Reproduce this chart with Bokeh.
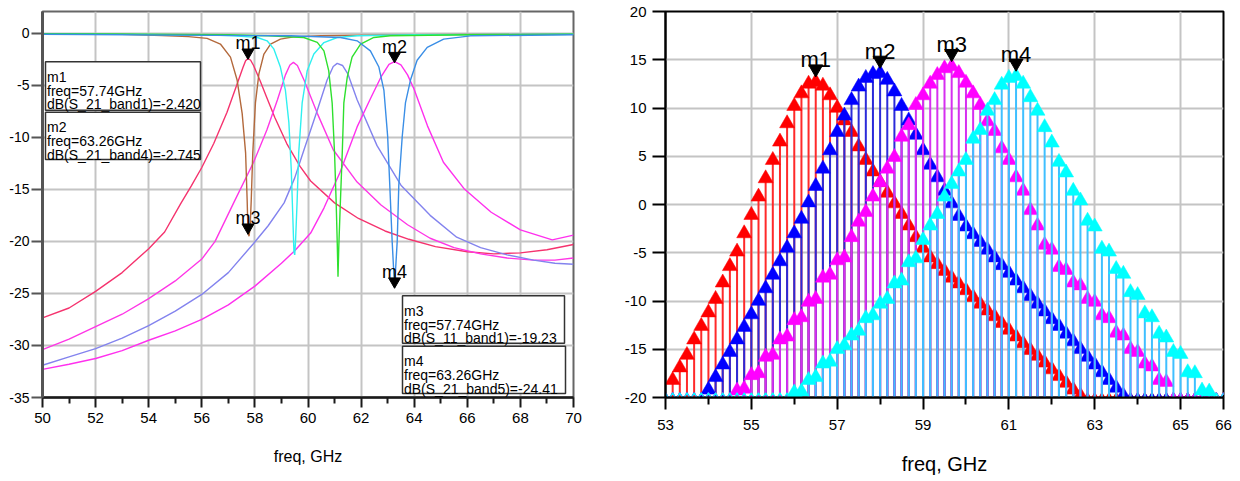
from bokeh.plotting import figure
from bokeh.layouts import row
from bokeh.models import FixedTicker, Range1d, ColumnDataSource, BoxAnnotation, Label
from bokeh.embed import file_html
from bokeh.resources import INLINE
from bokeh.core.properties import value

FONT = "Liberation Sans"

# ======================= LEFT PANEL DATA (dB vs freq GHz) =======================
S21_B1_F = [50.0, 51.0, 52.0, 53.0, 54.0, 54.6, 55.2, 55.6, 56.0, 56.45, 56.95, 57.3, 57.55, 57.65,
            57.74, 57.84, 57.95, 58.2, 58.45, 58.75, 59.2, 59.7, 60.1, 61.0, 61.9, 62.9, 63.8, 64.8,
            66.0, 67.0, 68.0, 69.0, 70.0]
S21_B1_DB = [-27.35, -26.4, -24.8, -23.0, -20.7, -19.1, -16.4, -14.7, -12.9, -10.6, -7.6, -5.1, -3.3, -2.65,
             -2.42, -2.6, -3.1, -4.6, -6.2, -8.1, -10.6, -12.8, -14.2, -16.3, -17.8, -19.0, -19.8, -20.5,
             -21.0, -21.2, -21.1, -20.8, -20.3]

S21_B2_F = [50.0, 51.0, 52.0, 53.0, 54.0, 55.0, 56.0, 56.5, 57.2, 57.95, 58.45, 58.85, 59.15, 59.32,
            59.45, 59.6, 59.85, 60.35, 60.95, 61.85, 62.75, 63.75, 64.6, 65.5, 66.5, 67.5, 68.5, 69.3, 70.0]
S21_B2_DB = [-30.4, -29.4, -28.2, -27.0, -25.5, -23.8, -21.7, -20.0, -16.3, -12.4, -9.3, -6.4, -4.0, -3.05,
             -2.8, -3.1, -4.5, -7.7, -11.2, -14.3, -16.5, -18.4, -19.7, -20.6, -21.2, -21.6, -21.8, -21.8, -21.6]

S21_B3_F = [50.0, 51.0, 52.0, 53.0, 54.0, 55.0, 56.0, 57.0, 57.95, 58.5, 59.1, 59.5, 59.85, 60.35,
            60.72, 60.95, 61.1, 61.3, 61.5, 61.85, 62.6, 63.5, 64.6, 65.6, 66.5, 67.5, 68.5, 69.3, 70.0]
S21_B3_DB = [-31.9, -31.1, -30.3, -29.3, -28.1, -26.7, -25.1, -23.0, -20.2, -18.5, -16.3, -13.9, -11.2, -7.4,
             -4.5, -3.2, -2.9, -3.1, -3.9, -6.4, -10.8, -14.6, -17.5, -19.6, -20.6, -21.3, -21.8, -22.1, -22.2]

S21_B4_F = [50.0, 51.0, 52.0, 53.0, 54.0, 55.0, 56.0, 57.0, 58.0, 59.0, 59.5, 60.1, 60.6, 61.2, 61.85,
            62.35, 62.75, 63.05, 63.26, 63.5, 63.75, 64.0, 64.5, 65.1, 65.9, 66.9, 68.0, 69.2, 70.0]
S21_B4_DB = [-32.3, -31.8, -31.25, -30.5, -29.5, -28.6, -27.5, -26.1, -24.3, -22.1, -20.9, -19.2, -16.8, -13.4,
             -9.0, -6.3, -4.2, -3.0, -2.74, -3.05, -4.0, -5.4, -8.9, -12.4, -15.0, -17.2, -18.9, -19.85, -19.4]

S11_B1_F = [50.0, 53.0, 54.5, 55.5, 56.2, 56.7, 57.08, 57.33, 57.52, 57.65, 57.71, 57.74, 57.78, 57.82,
            57.86, 57.92, 58.02, 58.15, 58.34, 58.59, 58.96, 59.46, 60.5, 62.0, 64.0, 66.0, 70.0]
S11_B1_DB = [-0.05, -0.1, -0.22, -0.33, -0.5, -1.04, -2.3, -4.5, -7.7, -11.5, -16.2, -19.23, -19.5, -18.6,
             -16.2, -11.5, -6.7, -3.9, -2.0, -1.04, -0.57, -0.35, -0.25, -0.2, -0.15, -0.12, -0.1]

S11_B2_F = [50.0, 56.2, 57.2, 58.09, 58.46, 58.71, 58.96, 59.15, 59.28, 59.37, 59.43, 59.47, 59.5, 59.53,
            59.59, 59.65, 59.78, 59.97, 60.22, 60.6, 61.1, 61.85, 64.0, 70.0]
S11_B2_DB = [-0.05, -0.16, -0.25, -0.41, -0.73, -1.5, -3.25, -5.5, -8.6, -13.1, -17.8, -21.0, -21.3, -20.0,
             -16.2, -11.5, -6.7, -3.6, -2.0, -0.9, -0.41, -0.25, -0.15, -0.1]

S11_B3_F = [50.0, 57.0, 58.5, 59.84, 60.35, 60.6, 60.78, 60.91, 61.0, 61.06, 61.1, 61.13, 61.16, 61.22,
            61.29, 61.35, 61.48, 61.66, 61.98, 62.48, 63.1, 66.0, 70.0]
S11_B3_DB = [-0.05, -0.15, -0.25, -0.41, -0.88, -1.7, -3.6, -6.7, -11.5, -16.2, -20.0, -23.4, -20.5, -16.2,
             -11.5, -6.7, -4.2, -2.3, -1.04, -0.41, -0.25, -0.15, -0.1]

S11_B5_F = [50.0, 59.34, 61.22, 61.85, 62.35, 62.67, 62.86, 63.0, 63.08, 63.17, 63.26, 63.36, 63.42, 63.55,
            63.67, 63.86, 64.11, 64.49, 65.11, 66.12, 70.0]
S11_B5_DB = [-0.1, -0.25, -0.41, -0.73, -1.7, -3.25, -5.5, -9.9, -14.6, -20.0, -24.41, -20.0, -14.6, -9.9,
             -6.7, -4.5, -2.6, -1.36, -0.57, -0.25, -0.15]

LEFT_CURVES = [
    (S21_B1_F, S21_B1_DB, "#f5336e"),
    (S21_B2_F, S21_B2_DB, "#ff36e6"),
    (S21_B3_F, S21_B3_DB, "#8383ee"),
    (S21_B4_F, S21_B4_DB, "#ff30ee"),
    (S11_B1_F, S11_B1_DB, "#b3693c"),
    (S11_B2_F, S11_B2_DB, "#2ff0f0"),
    (S11_B3_F, S11_B3_DB, "#2ee02e"),
    (S11_B5_F, S11_B5_DB, "#3a8ee6"),
]

LEFT_MARKERS = [("m1", 57.74, -2.42), ("m2", 63.26, -2.745), ("m3", 57.74, -19.23), ("m4", 63.26, -24.41)]
READOUT_TEXT = [
    ["m1", "freq=57.74GHz", "dB(S_21_band1)=-2.420"],
    ["m2", "freq=63.26GHz", "dB(S_21_band4)=-2.745"],
    ["m3", "freq=57.74GHz", "dB(S_11_band1)=-19.23"],
    ["m4", "freq=63.26GHz", "dB(S_21_band5)=-24.41"],
]

LEFT_X_TICKS = [50, 52, 54, 56, 58, 60, 62, 64, 66, 68, 70]
LEFT_X_MINOR = [51, 53, 55, 57, 59, 61, 63, 65, 67, 69]
LEFT_Y_TICKS = [-35, -30, -25, -20, -15, -10, -5, 0]

# ======================= RIGHT PANEL DATA =======================
FREQ_R = [53.0, 53.167, 53.333, 53.5, 53.667, 53.833,
          54.0, 54.167, 54.333, 54.5, 54.667, 54.833,
          55.0, 55.167, 55.333, 55.5, 55.667, 55.833,
          56.0, 56.167, 56.333, 56.5, 56.667, 56.833,
          57.0, 57.167, 57.333, 57.5, 57.667, 57.833,
          58.0, 58.167, 58.333, 58.5, 58.667, 58.833,
          59.0, 59.167, 59.333, 59.5, 59.667, 59.833,
          60.0, 60.167, 60.333, 60.5, 60.667, 60.833,
          61.0, 61.167, 61.333, 61.5, 61.667, 61.833,
          62.0, 62.167, 62.333, 62.5, 62.667, 62.833,
          63.0, 63.167, 63.333, 63.5, 63.667, 63.833,
          64.0, 64.167, 64.333, 64.5, 64.667, 64.833,
          65.0, 65.167, 65.333, 65.5, 65.667, 65.833,
          66.0]
RED_DB = [-20.6, -18.2, -16.9, -15.6, -14.0, -12.6,
          -11.2, -9.8, -8.1, -6.4, -4.9, -3.0,
          -1.1, 0.8, 2.7, 4.6, 6.5, 8.4,
          10.2, 11.5, 12.5, 12.7, 12.3, 11.3,
          10.0, 8.7, 7.5, 6.0, 4.6, 3.4,
          2.3, 1.2, 0.1, -1.0, -2.2, -3.4,
          -4.5, -5.5, -6.2, -6.9, -7.6, -8.2,
          -8.9, -9.6, -10.3, -11.0, -11.6, -12.3,
          -13.0, -13.7, -14.4, -15.1, -15.7, -16.4,
          -17.1, -17.8, -18.5, -19.2, -19.8, -20.5,
          -21.2, -21.9, -22.6, -23.3, -24.0, -24.7,
          -25.4, -26.1, -26.8, -27.5, -28.2, -28.9,
          -29.6, -30.3, -31.0, -31.7, -32.4, -33.1,
          -33.8]
BLUE_DB = [-26.5, -25.2, -24.0, -22.8, -21.7, -20.6,
           -19.2, -17.9, -16.6, -15.3, -14.0, -12.7,
           -11.4, -10.0, -8.7, -7.3, -5.9, -4.5,
           -3.0, -1.5, 0.2, 1.9, 3.7, 5.6,
           7.5, 9.2, 10.8, 12.2, 13.1, 13.5,
           13.6, 12.9, 11.7, 10.2, 8.7, 7.2,
           5.6, 4.1, 2.8, 1.4, 0.1, -1.2,
           -2.3, -3.1, -3.9, -4.7, -5.5, -6.3,
           -7.1, -7.9, -8.7, -9.5, -10.3, -11.1,
           -11.9, -12.6, -13.4, -14.2, -15.0, -15.8,
           -16.6, -17.4, -18.2, -19.0, -19.8, -20.6,
           -21.4, -22.2, -23.0, -23.8, -24.6, -25.4,
           -26.2, -27.0, -27.8, -28.6, -29.4, -30.2,
           -31.0]
MAGENTA_DB = [-28.0, -27.2, -26.4, -25.6, -24.8, -24.0,
              -23.2, -22.4, -21.6, -20.8, -19.3, -19.1,
              -17.7, -17.5, -15.8, -15.6, -14.0, -13.7,
              -12.0, -11.7, -10.1, -9.8, -7.6, -7.3,
              -5.8, -5.5, -3.4, -1.8, -0.8, 0.8,
              2.3, 3.7, 4.9, 7.0, 8.2, 10.3,
              11.3, 12.5, 13.4, 14.1, 14.3, 13.6,
              12.6, 11.5, 10.3, 8.6, 7.6, 5.8,
              4.6, 2.8, 1.4, -0.6, -2.2, -4.2,
              -4.7, -6.5, -6.8, -8.1, -8.4, -9.8,
              -10.1, -11.5, -11.8, -13.3, -13.6, -15.0,
              -15.3, -16.5, -16.8, -18.2, -18.4, -20.3,
              -20.6, -22.0, -22.3, -23.7, -24.0, -25.4,
              -25.7]
CYAN_DB = [-33.0, -32.2, -31.4, -30.6, -29.8, -29.0,
           -28.2, -27.4, -26.6, -25.8, -25.0, -24.4,
           -23.8, -23.2, -22.6, -22.0, -21.4, -20.8,
           -19.5, -19.4, -18.2, -17.9, -16.5, -16.3,
           -15.0, -14.6, -13.6, -13.1, -11.8, -11.5,
           -10.3, -9.8, -8.2, -7.9, -6.0, -5.6,
           -3.7, -2.2, -1.0, 0.8, 2.1, 3.4,
           4.6, 6.8, 7.7, 9.7, 10.8, 12.4,
           13.1, 13.3, 12.5, 11.1, 9.7, 8.0,
           6.4, 4.4, 3.3, 1.4, 0.4, -1.7,
           -2.3, -4.6, -4.9, -6.7, -7.2, -9.1,
           -9.4, -11.3, -11.7, -13.4, -13.8, -15.3,
           -15.5, -17.4, -17.5, -19.3, -19.4, -20.8,
           -21.0]

RIGHT_SERIES = [
    ("m1", 21, RED_DB, "#ff0000", "#ff2a2a"),
    ("m2", 30, BLUE_DB, "#0000ff", "#2b2bd9"),
    ("m3", 40, MAGENTA_DB, "#ff00ff", "#d62ff0"),
    ("m4", 49, CYAN_DB, "#00ffff", "#3fbfff"),
]
RIGHT_X_TICKS = [53, 55, 57, 59, 61, 63, 65, 66]
RIGHT_X_MINOR = [54, 56, 58, 60, 62, 64]
RIGHT_Y_TICKS = [-20, -15, -10, -5, 0, 5, 10, 15, 20]

GRID = "#c4c4c4"
FIG_H = 479

# ======================= LEFT FIGURE =======================
L_TOP, L_ZERO, L_BOT = 7, 29, 398          # frame top, 0 dB line, frame bottom (px)
L_PX = (L_BOT - L_ZERO) / 35.0             # pixels per dB on the left frame
L_YMAX = (L_ZERO - L_TOP) / L_PX
p1 = figure(width=600, height=FIG_H, x_range=Range1d(50, 70), y_range=Range1d(-35, L_YMAX),
            output_backend="svg", toolbar_location=None,
            min_border_left=42, min_border_right=27, min_border_top=L_TOP,
            min_border_bottom=FIG_H - L_BOT)
p1.outline_line_color = "#666666"
p1.outline_line_width = 2
p1.xgrid.grid_line_color = GRID
p1.ygrid.grid_line_color = GRID
p1.xgrid.grid_line_width = 2
p1.ygrid.grid_line_width = 2

p1.xaxis.ticker = FixedTicker(ticks=LEFT_X_TICKS, minor_ticks=LEFT_X_MINOR)
p1.yaxis.ticker = FixedTicker(ticks=LEFT_Y_TICKS, minor_ticks=[])
p1.yaxis.major_label_overrides = {t: str(t) for t in LEFT_Y_TICKS}
p1.xaxis.major_label_overrides = {t: str(t) for t in LEFT_X_TICKS}
for ax in (p1.xaxis[0], p1.yaxis[0]):
    ax.major_label_text_font = FONT
    ax.major_label_text_color = "black"
    ax.major_tick_in = 0
    ax.minor_tick_in = 0
p1.xaxis.major_label_text_font_size = "15px"
p1.yaxis.major_label_text_font_size = "14px"
p1.xaxis.axis_line_color = "#1a1a1a"
p1.xaxis.axis_line_width = 2.5
p1.xaxis.major_tick_line_color = "#1a1a1a"
p1.xaxis.minor_tick_line_color = "#1a1a1a"
p1.xaxis.major_tick_line_width = 2
p1.xaxis.minor_tick_line_width = 2
p1.xaxis.major_tick_out = 10
p1.xaxis.minor_tick_out = 6
p1.xaxis.major_label_standoff = 5
p1.yaxis.axis_line_color = "#555555"
p1.yaxis.axis_line_width = 3
p1.yaxis.major_tick_line_color = "#555555"
p1.yaxis.major_tick_line_width = 2
p1.yaxis.major_tick_out = 11
p1.yaxis.major_label_standoff = 2
p1.xaxis.axis_label = "freq, GHz"
p1.xaxis.axis_label_text_font = FONT
p1.xaxis.axis_label_text_font_size = "16px"
p1.xaxis.axis_label_text_font_style = "normal"
p1.xaxis.axis_label_text_color = "black"
p1.xaxis.axis_label_standoff = 22

for fx, dbs, col in LEFT_CURVES:
    p1.line(fx, dbs, line_color=col, line_width=1.4)

for name, f, v in LEFT_MARKERS:
    p1.scatter([f], [v + 6 / L_PX], marker="inverted_triangle", size=12, color="black")
    p1.text([f], [v], text=[name], y_offset=-15, text_font=value(FONT), text_font_size="18px",
            text_align="center", text_baseline="alphabetic", text_color="black")


def lx(px):
    return 50 + (px - 42) * 20 / 531


def ly(py):
    return -(py - L_ZERO) / L_PX


READOUT_BOXES = [(45, 200, 58, 107), (45, 200, 109, 157), (402, 564, 295, 343), (402, 565, 346, 394)]
for (bl, br, bt, bb), lines in zip(READOUT_BOXES, READOUT_TEXT):
    p1.add_layout(BoxAnnotation(left=lx(bl), right=lx(br), top=ly(bt), bottom=ly(bb),
                                fill_color="white", fill_alpha=1.0, line_color="#333333",
                                line_width=1.5, line_alpha=1.0))
    for i, t in enumerate(lines):
        p1.add_layout(Label(x=lx(bl + 1.5), y=ly(bt + 15.5 + i * 13.7), text=t,
                            text_font=FONT, text_font_size="14px", text_color="black",
                            text_baseline="alphabetic", text_align="left"))

# ======================= RIGHT FIGURE =======================
R_YMIN, R_YMAX = -20, 20
R_TOP, R_BOT = 11, 397
R_PX = (R_BOT - R_TOP) / 40.0
p2 = figure(width=640, height=FIG_H, x_range=Range1d(53, 66), y_range=Range1d(R_YMIN, R_YMAX),
            output_backend="svg", toolbar_location=None,
            min_border_left=65, min_border_right=17, min_border_top=R_TOP,
            min_border_bottom=FIG_H - R_BOT)
p2.outline_line_color = "black"
p2.outline_line_width = 2
p2.xgrid.grid_line_color = GRID
p2.ygrid.grid_line_color = GRID
p2.xgrid.grid_line_width = 2
p2.ygrid.grid_line_width = 2
p2.xaxis.ticker = FixedTicker(ticks=RIGHT_X_TICKS, minor_ticks=RIGHT_X_MINOR)
p2.yaxis.ticker = FixedTicker(ticks=RIGHT_Y_TICKS, minor_ticks=[])
p2.yaxis.major_label_overrides = {t: str(t) for t in RIGHT_Y_TICKS}
p2.xaxis.major_label_overrides = {t: str(t) for t in RIGHT_X_TICKS}
for ax in (p2.xaxis[0], p2.yaxis[0]):
    ax.major_label_text_font = FONT
    ax.major_label_text_font_size = "15px"
    ax.major_label_text_color = "black"
    ax.axis_line_color = "black"
    ax.axis_line_width = 2
    ax.major_tick_line_color = "black"
    ax.minor_tick_line_color = "black"
    ax.major_tick_line_width = 2
    ax.minor_tick_line_width = 2
    ax.major_tick_in = 0
    ax.minor_tick_in = 0
p2.xaxis.major_tick_out = 12
p2.xaxis.minor_tick_out = 7
p2.xaxis.major_label_standoff = 10
p2.yaxis.major_tick_out = 13
p2.yaxis.major_label_standoff = 6
p2.xaxis.axis_label = "freq, GHz"
p2.xaxis.axis_label_text_font = FONT
p2.xaxis.axis_label_text_font_size = "20px"
p2.xaxis.axis_label_text_font_style = "normal"
p2.xaxis.axis_label_text_color = "black"
p2.xaxis.axis_label_standoff = 20

for name, idx, dbs, mcol, scol in RIGHT_SERIES:
    src = ColumnDataSource(dict(f=FREQ_R, db=dbs, base=[R_YMIN] * len(FREQ_R)))
    p2.segment(x0="f", y0="base", x1="f", y1="db", source=src, line_color=scol, line_width=2)
    p2.scatter(x="f", y="db", source=src, marker="triangle", size=15, fill_color=mcol,
               line_color=mcol, line_width=0.5)
    clip_f = [f for f, v in zip(FREQ_R, dbs) if v < R_YMIN]
    p2.scatter(clip_f, [R_YMIN] * len(clip_f), marker="triangle", size=8, fill_alpha=0,
               line_color=mcol, line_width=1.2)

for name, idx, dbs, mcol, scol in RIGHT_SERIES:
    f, v = FREQ_R[idx], dbs[idx]
    p2.scatter([f], [v + 13 / R_PX], marker="inverted_triangle", size=14, color="black")
    p2.text([f], [v], text=[name], y_offset=-22, text_font=value(FONT), text_font_size="22px",
            text_align="center", text_baseline="alphabetic", text_color="black")

layout = row(p1, p2)
open("out.html", "w").write(file_html(layout, INLINE))
